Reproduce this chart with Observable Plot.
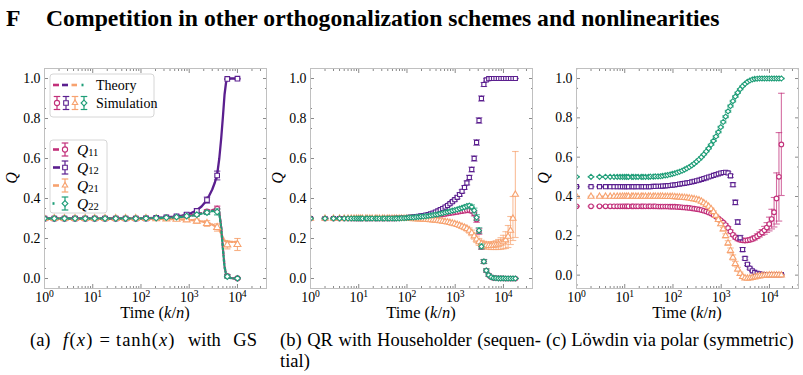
<!DOCTYPE html>
<html>
<head>
<meta charset="utf-8">
<script src="https://cdn.jsdelivr.net/npm/d3@7"></script>
<script src="https://cdn.jsdelivr.net/npm/@observablehq/plot@0.6"></script>
<style>
  body { margin: 0; background: #fff; }
  #fig { position: relative; width: 803px; height: 375px; overflow: hidden;
         font-family: "Liberation Serif", "Times New Roman", serif; color: #000; }
  .panel { position: absolute; top: 58px; }
  .title { position: absolute; top: 5px; font-weight: bold; font-size: 23.7px; line-height: 26px; white-space: nowrap; }
  .cap { position: absolute; font-size: 18.5px; line-height: 21px; white-space: nowrap; }
  #legend { position: absolute; left: 0; top: 0; pointer-events: none; }
</style>
</head>
<body>
<div id="fig">
  <div class="title" style="left:6px">F</div>
  <div class="title" style="left:46px">Competition in other orthogonalization schemes and nonlinearities</div>
  <div class="panel" id="pa" style="left:0px"></div>
  <div class="panel" id="pb" style="left:266px"></div>
  <div class="panel" id="pc" style="left:532px"></div>
  <svg id="legend" width="803" height="375"></svg>
  <div class="cap" style="left:30px;top:330px;width:227px;text-align:justify;text-align-last:justify">(a) <span style="letter-spacing:1.2px"><i>f</i>(<i>x</i>)</span><span style="margin:0 6px">=</span><span style="letter-spacing:1px">tanh(<i>x</i>)</span> with GS</div>
  <div class="cap" style="left:280px;top:330px;width:261px">
    <div style="text-align:justify;text-align-last:justify">(b) QR with Householder (sequen-</div>
    <div>tial)</div>
  </div>
  <div class="cap" style="left:546px;top:330px">(c) Löwdin via polar (symmetric)</div>
</div>
<script>
// ---------- series names, colours, markers ----------
const seriesNames = ["Q11", "Q12", "Q21", "Q22"];
const seriesColors = ["#c2307a", "#5b1f8f", "#f7a26f", "#1f9e78"];
const seriesSymbols = ["circle", "square", "triangle", "diamond2"];
const theoryDash = ["5,3", null, "5,2,1.5,2", "1.5,2.5"];

// ---------- axis ticks ----------
const xMajor = [1, 10, 100, 1000, 10000];
const xExponents = ["0", "1", "2", "3", "4"];
const yMajor = [0, 0.2, 0.4, 0.6, 0.8, 1.0];
const yMinor = [-0.05, 0.05, 0.15, 0.25, 0.35, 0.45, 0.55, 0.65, 0.75, 0.85, 0.95, 1.05];

// ---------- (a) tanh with GS: theory curves ----------
const thT = [1, 3, 10, 30, 100, 200, 300, 500, 700, 1000, 1400, 1800, 2200, 2600, 3000, 3400, 3800, 4200, 4600, 5000, 5400, 5800, 6200, 7000, 8000, 10000];
const thQ11 = [.3,.3,.3,.3,.301,.302,.303,.306,.309,.314,.321,.327,.333,.338,.342,.346,.347,.33,.26,.15,.06,.02,.008,.003,.001,0];
const thQ12 = [.3,.3,.3,.3,.301,.303,.305,.309,.314,.322,.34,.36,.385,.415,.445,.48,.52,.6,.7,.81,.92,.98,.997,1,1,1];
const thQ21 = [.3,.3,.3,.3,.3,.299,.298,.297,.295,.293,.29,.286,.281,.276,.27,.263,.255,.243,.225,.205,.19,.185,.184,.183,.183,.183];
const thQ22 = [.3,.3,.3,.3,.301,.302,.303,.305,.308,.312,.318,.324,.329,.333,.337,.34,.342,.325,.255,.145,.058,.02,.008,.003,.001,0];

// ---------- (a) tanh with GS: simulation ----------
const aT = [1, 1.6, 2.6, 4.3, 7, 11, 18, 30, 48, 78, 127, 207, 336, 546, 886, 1438, 2336, 3793, 6158, 10000];
const aQ11 = [.3,.3,.3,.3,.3,.3,.3,.3,.3,.3,.301,.302,.304,.307,.313,.322,.334,.347,.012,.001];
const aQ12 = [.3,.3,.3,.3,.3,.3,.3,.3,.3,.3,.301,.303,.306,.311,.32,.338,.392,.515,.998,.999];
const aQ21 = [.3,.3,.3,.3,.3,.3,.3,.3,.3,.3,.3,.299,.298,.296,.293,.287,.275,.255,.168,.17];
const aQ22 = [.3,.3,.3,.3,.3,.3,.3,.3,.3,.3,.301,.302,.304,.307,.312,.319,.33,.333,.01,.001];
const aQ11e = [.002,.002,.002,.002,.002,.002,.002,.002,.002,.002,.003,.003,.003,.004,.005,.007,.01,.015,.008,.003];
const aQ12e = [.002,.002,.002,.002,.002,.002,.002,.002,.002,.002,.003,.003,.004,.005,.007,.01,.015,.022,.003,.002];
const aQ21e = [.002,.002,.002,.002,.002,.002,.002,.002,.002,.002,.003,.003,.004,.005,.007,.01,.014,.018,.02,.03];
const aQ22e = [.002,.002,.002,.002,.002,.002,.002,.002,.002,.002,.003,.003,.003,.004,.005,.007,.01,.015,.008,.003];

// ---------- time grid shared by (b) and (c) ----------
const gT = [1,2,3,4,5,6,7,8,9,10,11,12,14,15,17,19,22,24,27,31,34,39,43,49,55,61,69,77,87,97,
  109,122,137,154,173,194,218,245,275,308,346,388,436,489,549,616,692,777,872,979,
  1099,1234,1385,1555,1746,1960,2200,2470,2773,3113,3495,3924,4405,4945,5552,6233,6997,7855,8819,9900,
  11115,12478,14008,15726,17655];

// ---------- (b) QR with Householder ----------
const bQ11 = [.3,.3,.3,.3,.3,.3,.3,.3,.3,.3,.3,.3,.3,.3,.3,.3,.3,.3,.3,.3,.3,.3,.3,.3,.3,
  .301,.301,.302,.302,.302,.303,.304,.304,.305,.306,.307,.308,.309,.31,.312,
  .313,.315,.317,.319,.321,.323,.325,.327,.329,.331,.333,.335,.337,.339,.341,.342,.338,.325,.295,.235,
  .158,.085,.04,.017,.007,.003,.002,.001,.001,.001,0,0,0,0,0];
const bQ12 = [.3,.3,.3,.3,.3,.3,.3,.3,.3,.3,.3,.3,.3,.3,.3,.3,.3,.3,.3,.3,
  .3,.301,.301,.301,.302,.302,.303,.303,.304,.305,.306,.307,.308,.31,.311,.313,.315,.317,.32,.323,
  .327,.332,.338,.344,.35,.357,.365,.374,.384,.394,.406,.42,.436,.455,.478,.505,.545,.6,.68,.79,
  .9,.97,.993,.999,1,1,1,1,1,1,1,1,1,1,1];
const bQ21 = [.3,.3,.3,.3,.3,.3,.3,.3,.3,.3,.3,.3,.3,.3,.3,.3,.3,.3,.3,.3,.3,.3,.3,.3,.3,.3,.3,.3,.3,.3,
  .299,.299,.298,.298,.297,.297,.296,.295,.294,.293,.292,.291,.29,.288,.286,.284,.282,.279,.276,.273,
  .269,.265,.26,.255,.249,.24,.228,.212,.196,.183,.174,.168,.165,.164,.164,.165,.167,.17,.175,.182,
  .192,.21,.24,.3,.42];
const bQ22 = [.3,.3,.3,.3,.3,.3,.3,.3,.3,.3,.3,.3,.3,.3,.3,.3,.3,.3,.3,.3,.3,.3,.3,.3,.3,
  .301,.301,.302,.302,.303,.304,.305,.306,.307,.308,.309,.31,.312,.313,.315,
  .317,.319,.321,.324,.327,.33,.333,.336,.339,.342,.345,.349,.353,.357,.362,.364,.358,.34,.305,.24,
  .16,.085,.04,.017,.007,.003,.002,.001,.001,.001,0,0,0,0,0];
const bQ11e = [.002,.002,.002,.002,.002,.002,.002,.002,.002,.002,.002,.002,.002,.002,.002,.002,.002,.002,.002,.002,
  .002,.002,.002,.002,.002,.002,.002,.002,.002,.002,.002,.002,.002,.002,.002,.002,.002,.002,.002,.002,
  .003,.003,.003,.004,.004,.004,.005,.005,.005,.006,.006,.007,.007,.008,.008,.009,.01,.012,.014,.014,
  .012,.01,.008,.006,.004,.003,.002,.002,.002,.002,.001,.001,.001,.001,.001];
const bQ12e = [.002,.002,.002,.002,.002,.002,.002,.002,.002,.002,.002,.002,.002,.002,.002,.002,.002,.002,.002,.002,
  .002,.002,.002,.002,.002,.002,.002,.002,.002,.002,.002,.002,.002,.002,.002,.002,.002,.002,.002,.002,
  .003,.003,.004,.004,.004,.005,.005,.006,.006,.007,.007,.008,.008,.009,.01,.011,.012,.013,.014,.014,
  .013,.01,.006,.003,.002,.001,.001,.001,.001,.001,.001,.001,.001,.001,.001];
const bQ21e = [.002,.002,.002,.002,.002,.002,.002,.002,.002,.002,.002,.002,.002,.002,.002,.002,.002,.002,.002,.002,
  .002,.002,.002,.002,.002,.002,.002,.002,.002,.002,.002,.002,.002,.002,.002,.002,.002,.002,.002,.002,
  .003,.003,.004,.004,.004,.005,.005,.006,.006,.007,.008,.009,.01,.011,.012,.013,.014,.015,.016,.017,
  .017,.018,.018,.018,.019,.02,.022,.025,.029,.034,.042,.055,.07,.11,.215];
const bQ22e = [.002,.002,.002,.002,.002,.002,.002,.002,.002,.002,.002,.002,.002,.002,.002,.002,.002,.002,.002,.002,
  .002,.002,.002,.002,.002,.002,.002,.002,.002,.002,.002,.002,.002,.002,.002,.002,.002,.002,.002,.002,
  .003,.003,.003,.004,.004,.004,.005,.005,.005,.006,.006,.007,.007,.008,.008,.009,.01,.012,.014,.014,
  .012,.01,.008,.006,.004,.003,.002,.002,.002,.002,.001,.001,.001,.001,.001];

// ---------- (c) Löwdin via polar ----------
const cQ11 = [.35,.35,.35,.35,.35,.35,.35,.35,.35,.35,.35,.35,.35,.35,.35,.35,.35,.35,.35,.35,
  .35,.35,.35,.349,.349,.349,.349,.349,.348,.348,.348,.347,.346,.345,.344,.343,.342,.34,.338,.336,
  .334,.331,.328,.324,.319,.313,.306,.298,.289,.279,.268,.255,.24,.222,.205,.193,.185,.18,.177,.176,
  .177,.18,.184,.19,.198,.207,.217,.228,.242,.26,.285,.32,.39,.5,.665];
const cQ12 = [.45,.45,.45,.45,.45,.45,.45,.45,.45,.45,.45,.45,.45,.45,.45,.45,.45,.45,.45,.45,
  .45,.451,.451,.452,.452,.453,.454,.455,.456,.458,.459,.461,.463,.465,.467,.469,.471,.474,.477,.48,
  .483,.487,.491,.495,.499,.503,.507,.511,.515,.519,.522,.523,.52,.505,.46,.37,.27,.19,.13,.085,
  .055,.035,.022,.014,.009,.006,.004,.003,.003,.003,.003,.003,.003,.003,.003];
const cQ21 = [.4,.4,.4,.4,.4,.4,.4,.4,.4,.4,.4,.4,.4,.4,.4,.4,.4,.4,.4,.4,
  .4,.4,.4,.4,.4,.4,.399,.399,.399,.399,.398,.397,.396,.395,.394,.393,.391,.389,.387,.384,
  .381,.375,.367,.359,.349,.337,.322,.303,.282,.26,.234,.2,.163,.125,.09,.058,.03,.008,-.008,-.015,
  -.017,-.016,-.013,-.01,-.007,-.005,-.003,-.002,-.001,0,0,0,0,0,0];
const cQ22 = [.5,.5,.5,.5,.5,.5,.5,.5,.5,.5,.5,.5,.5,.5,.5,.5,.5,.5,.5,.5,
  .501,.501,.502,.502,.503,.505,.507,.509,.512,.515,.518,.522,.526,.531,.537,.543,.55,.558,.567,.577,
  .588,.6,.614,.629,.645,.663,.683,.705,.728,.753,.779,.806,.833,.86,.885,.908,.928,.946,.961,.973,
  .983,.99,.995,.998,.999,1,1,1,1,1,1,1,1,1,1];
const cQ11e = [.002,.002,.002,.002,.002,.002,.002,.002,.002,.002,.002,.002,.002,.002,.002,.002,.002,.002,.002,.002,
  .002,.002,.002,.002,.002,.002,.002,.002,.002,.002,.002,.002,.002,.002,.002,.002,.002,.002,.002,.002,
  .002,.002,.002,.002,.002,.002,.002,.002,.002,.002,.004,.005,.006,.007,.008,.009,.01,.01,.01,.01,
  .01,.01,.01,.011,.012,.013,.015,.02,.025,.035,.05,.075,.13,.225,.26];
const cQ12e = [.002,.002,.002,.002,.002,.002,.002,.002,.002,.002,.002,.002,.002,.002,.002,.002,.002,.002,.002,.002,
  .002,.002,.002,.002,.002,.002,.002,.002,.002,.002,.002,.002,.002,.002,.002,.002,.002,.002,.002,.002,
  .002,.002,.002,.002,.002,.002,.002,.002,.002,.002,.004,.005,.006,.008,.01,.012,.012,.012,.01,.008,
  .006,.005,.004,.003,.002,.002,.002,.002,.002,.002,.002,.002,.002,.002,.002];
const cQ21e = [.002,.002,.002,.002,.002,.002,.002,.002,.002,.002,.002,.002,.002,.002,.002,.002,.002,.002,.002,.002,
  .002,.002,.002,.002,.002,.002,.002,.002,.002,.002,.002,.002,.002,.002,.002,.002,.002,.002,.002,.002,
  .002,.002,.002,.002,.002,.004,.005,.006,.007,.008,.009,.01,.012,.013,.013,.012,.01,.008,.006,.005,
  .004,.003,.003,.003,.002,.002,.002,.002,.002,.002,.002,.002,.002,.002,.002];
const cQ22e = [.002,.002,.002,.002,.002,.002,.002,.002,.002,.002,.002,.002,.002,.002,.002,.002,.002,.002,.002,.002,
  .002,.002,.002,.002,.002,.002,.002,.002,.002,.002,.002,.002,.002,.002,.002,.002,.002,.002,.002,.002,
  .002,.002,.002,.002,.003,.003,.003,.004,.004,.004,.005,.005,.005,.005,.004,.004,.003,.003,.002,.002,
  .002,.002,.002,.002,.002,.002,.002,.002,.002,.002,.002,.002,.002,.002,.002];

// ---------- helpers ----------
const frameColor = "#c0c0c0";
const tickColor = "#8a8a8a";
const fontFamily = "'Liberation Serif', 'Times New Roman', serif";

// horizontal cap used for the error-bar ends
const capSymbol = {
  draw(ctx, size) {
    const w = Math.sqrt(size / Math.PI);
    ctx.moveTo(-w, 0);
    ctx.lineTo(w, 0);
  }
};

const xMinor = [];
for (let e = 0; e <= 4; e++) for (let m = 2; m <= 9; m++) {
  const v = m * 10 ** e;
  if (v <= 40000) xMinor.push(v);
}

function rowsOf(t, y, e) {
  return t.map((tv, i) => ({t: tv, y: y[i], e: e ? e[i] : 0}));
}

function simulationMarks(rows, k, r, capR, barOpacity) {
  const color = seriesColors[k];
  return [
    Plot.ruleX(rows, {x: "t", y1: d => d.y - d.e, y2: d => d.y + d.e, stroke: color, strokeOpacity: barOpacity, strokeWidth: 1.1, clip: true}),
    Plot.dot(rows, {x: "t", y: d => d.y - d.e, symbol: capSymbol, r: capR, fill: "none", stroke: color, strokeOpacity: barOpacity, strokeWidth: 1.1, clip: true}),
    Plot.dot(rows, {x: "t", y: d => d.y + d.e, symbol: capSymbol, r: capR, fill: "none", stroke: color, strokeOpacity: barOpacity, strokeWidth: 1.1, clip: true}),
    Plot.dot(rows, {x: "t", y: "y", symbol: seriesSymbols[k], r, fill: "white", stroke: color, strokeWidth: 1.1, clip: true})
  ];
}

function frameMarks(yDomain) {
  const yMaj = yMajor.filter(v => v >= yDomain[0] && v <= yDomain[1]);
  const yMin = yMinor.filter(v => v >= yDomain[0] && v <= yDomain[1]);
  const tick = {stroke: tickColor, label: null, tickFormat: () => ""};
  return [
    Plot.axisX({...tick, anchor: "bottom", ticks: xMajor, tickSize: -4}),
    Plot.axisX({...tick, anchor: "top", ticks: xMajor, tickSize: -4}),
    Plot.axisX({...tick, anchor: "bottom", ticks: xMinor, tickSize: -2}),
    Plot.axisX({...tick, anchor: "top", ticks: xMinor, tickSize: -2}),
    Plot.axisY({...tick, anchor: "left", ticks: yMaj, tickSize: -4}),
    Plot.axisY({...tick, anchor: "right", ticks: yMaj, tickSize: -4}),
    Plot.axisY({...tick, anchor: "left", ticks: yMin, tickSize: -2}),
    Plot.axisY({...tick, anchor: "right", ticks: yMin, tickSize: -2}),
    Plot.axisY({anchor: "left", ticks: yMaj, tickSize: 0, tickPadding: 4, label: null, tickFormat: d3.format(".1f"), fontSize: 13.8, fontFamily, stroke: null}),
    Plot.text(xMajor, {x: d => d, text: () => "10", frameAnchor: "bottom", dy: 13, dx: -2.3, fontSize: 13.8, fontFamily}),
    Plot.text(xMajor, {x: d => d, text: (d, i) => xExponents[i], frameAnchor: "bottom", dy: 8, dx: 6.8, fontSize: 9.6, fontFamily}),
    Plot.frame({stroke: frameColor, strokeWidth: 1})
  ];
}

function addAxisTitles(svg) {
  const s = d3.select(svg);
  const t = s.append("text")
    .attr("x", 44 + 111).attr("y", 260)
    .attr("text-anchor", "middle")
    .attr("font-family", fontFamily).attr("font-size", 16.5).attr("fill", "#000");
  t.append("tspan").text("Time (");
  t.append("tspan").attr("font-style", "italic").text("k");
  t.append("tspan").text("/");
  t.append("tspan").attr("font-style", "italic").text("n");
  t.append("tspan").text(")");
  s.append("text")
    .attr("transform", "translate(17,120) rotate(-90)")
    .attr("text-anchor", "middle")
    .attr("font-family", fontFamily).attr("font-size", 16).attr("font-style", "italic").attr("fill", "#000")
    .text("Q");
}

function makePanel(marks, yDomain) {
  const svg = Plot.plot({
    width: 270, height: 265,
    marginLeft: 44, marginRight: 4, marginTop: 10, marginBottom: 35,
    style: {fontFamily, fontSize: "13.8px", color: "#000", background: "transparent", overflow: "visible"},
    x: {type: "log", domain: [1, 40000]},
    y: {domain: yDomain},
    marks: [...marks, ...frameMarks(yDomain)]
  });
  addAxisTitles(svg);
  return svg;
}

// ---------- panel (a) ----------
const aSim = [aQ11, aQ12, aQ21, aQ22];
const aErr = [aQ11e, aQ12e, aQ21e, aQ22e];
const thSeries = [thQ11, thQ12, thQ21, thQ22];
const drawOrderA = [1, 2, 0, 3];
const aMarks = [];
for (const k of drawOrderA) {
  aMarks.push(Plot.line(rowsOf(thT, thSeries[k]), {x: "t", y: "y", stroke: seriesColors[k], strokeWidth: 2.3, strokeDasharray: theoryDash[k], clip: true}));
}
for (const k of [0, 1, 2, 3]) aMarks.push(...simulationMarks(rowsOf(aT, aSim[k], aErr[k]), k, 2.6, 3.2, 0.85));
document.getElementById("pa").appendChild(makePanel(aMarks, [-0.05, 1.05]));

// ---------- panel (b) ----------
const bSim = [bQ11, bQ12, bQ21, bQ22];
const bErr = [bQ11e, bQ12e, bQ21e, bQ22e];
const bMarks = [];
for (const k of [0, 1, 2, 3]) bMarks.push(...simulationMarks(rowsOf(gT, bSim[k], bErr[k]), k, 2.3, 3.3, 0.7));
document.getElementById("pb").appendChild(makePanel(bMarks, [-0.05, 1.05]));

// ---------- panel (c) ----------
const cSim = [cQ11, cQ12, cQ21, cQ22];
const cErr = [cQ11e, cQ12e, cQ21e, cQ22e];
const cMarks = [];
for (const k of [0, 1, 2, 3]) cMarks.push(...simulationMarks(rowsOf(gT, cSim[k], cErr[k]), k, 2.3, 3.3, 0.7));
document.getElementById("pc").appendChild(makePanel(cMarks, [-0.068, 1.051]));

// ---------- legends inside panel (a) ----------
const leg = d3.select("#legend");
const symbolTypes = {circle: d3.symbolCircle, square: d3.symbolSquare, triangle: d3.symbolTriangle2, diamond2: d3.symbolDiamond2};

function legendBox(x, y, w, h) {
  leg.append("rect").attr("x", x).attr("y", y).attr("width", w).attr("height", h).attr("rx", 3)
    .attr("fill", "white").attr("fill-opacity", 0.8).attr("stroke", "#d6d6d6").attr("stroke-width", 1);
}
function errorHandle(cx, cy, k) {
  const c = seriesColors[k];
  leg.append("line").attr("x1", cx).attr("x2", cx).attr("y1", cy - 6.5).attr("y2", cy + 6.5).attr("stroke", c).attr("stroke-width", 1.2);
  for (const dy of [-6.5, 6.5]) leg.append("line").attr("x1", cx - 3.3).attr("x2", cx + 3.3).attr("y1", cy + dy).attr("y2", cy + dy).attr("stroke", c).attr("stroke-width", 1.2);
  leg.append("path").attr("transform", `translate(${cx},${cy})`)
    .attr("d", d3.symbol(symbolTypes[seriesSymbols[k]], Math.PI * 2.6 * 2.6)())
    .attr("fill", "white").attr("stroke", c).attr("stroke-width", 1.1);
}
function lineHandle(x1, x2, cy, k) {
  leg.append("line").attr("x1", x1).attr("x2", x2).attr("y1", cy).attr("y2", cy)
    .attr("stroke", seriesColors[k]).attr("stroke-width", 2.6);
}
function legendText(x, y, str, size) {
  return leg.append("text").attr("x", x).attr("y", y).attr("font-family", fontFamily).attr("font-size", size).attr("fill", "#000").text(str);
}

legendBox(50, 74, 104, 43);
lineHandle(53, 59, 85, 0);
lineHandle(62, 68, 85, 1);
lineHandle(71.5, 77, 85, 2);
lineHandle(81.5, 83.5, 85, 3);
legendText(96, 90, "Theory", 14);
errorHandle(57, 103, 0);
errorHandle(66, 103, 1);
errorHandle(75, 103, 2);
errorHandle(84, 103, 3);
legendText(96, 108, "Simulation", 14);

legendBox(50, 140, 57, 73);
const rowY = [149.5, 167.5, 185.5, 203.5];
const handleEnd = [59, 60, 59, 54.5];
const subscripts = ["11", "12", "21", "22"];
seriesNames.forEach((name, k) => {
  const y = rowY[k];
  lineHandle(k === 3 ? 52.5 : 53, handleEnd[k], y, k);
  errorHandle(65, y, k);
  const t = legendText(77, y + 5, "", 15.5);
  t.append("tspan").attr("font-style", "italic").text("Q");
  t.append("tspan").attr("font-size", 10.5).attr("dy", 1.8).text(subscripts[k]);
});
</script>
</body>
</html>
